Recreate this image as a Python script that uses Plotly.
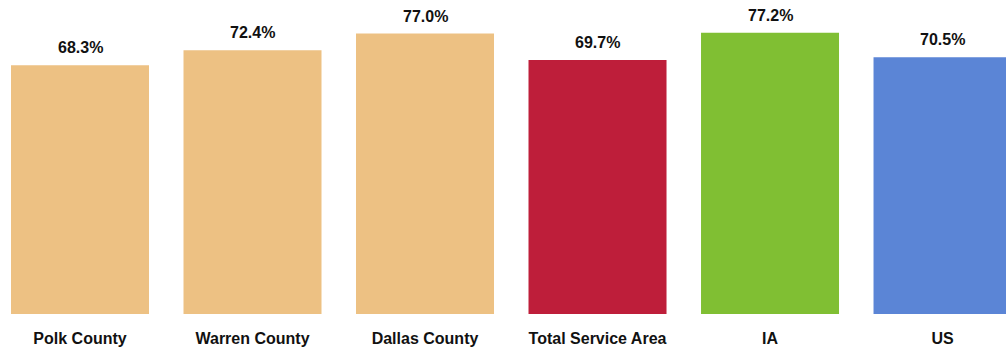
import plotly.graph_objects as go

# Data
categories = ["Polk County", "Warren County", "Dallas County", "Total Service Area", "IA", "US"]
values = [68.3, 72.4, 77.0, 69.7, 77.2, 70.5]
bar_colors = ["#EDC183", "#EDC183", "#EDC183", "#BE1E3A", "#80BF33", "#5B85D6"]
value_labels = ["68.3%", "72.4%", "77.0%", "69.7%", "77.2%", "70.5%"]

FONT = "Liberation Sans, Arial, sans-serif"

fig = go.Figure()

fig.add_trace(go.Bar(
    x=list(range(len(categories))),
    y=values,
    marker=dict(color=bar_colors, line=dict(width=0)),
    width=0.8,
    hoverinfo="skip",
))

# value labels above each bar
for i, (v, lab) in enumerate(zip(values, value_labels)):
    fig.add_annotation(
        x=i, y=v,
        text=f"<b>{lab}</b>",
        showarrow=False,
        yanchor="bottom",
        yshift=7,
        font=dict(family=FONT, size=16, color="#111111"),
    )

fig.update_layout(
    width=1006,
    height=352,
    margin=dict(l=0, r=0, t=0, b=38),
    plot_bgcolor="white",
    paper_bgcolor="white",
    showlegend=False,
    xaxis=dict(
        range=[-0.4638, 5.368],
        tickmode="array",
        tickvals=list(range(len(categories))),
        ticktext=[f"<b>{c}</b>" for c in categories],
        tickfont=dict(family=FONT, size=16, color="#111111"),
        showgrid=False,
        zeroline=False,
        showline=False,
        ticks="outside",
        ticklen=10,
        tickcolor="white",
    ),
    yaxis=dict(
        range=[0, 86.2],
        visible=False,
        showgrid=False,
        zeroline=False,
    ),
)

# drop the default page margin so the chart sits flush in the window
fig.write_html(
    "out.html",
    config={"displayModeBar": False},
    post_script="document.body.style.margin='0';document.body.style.overflow='hidden';",
)
